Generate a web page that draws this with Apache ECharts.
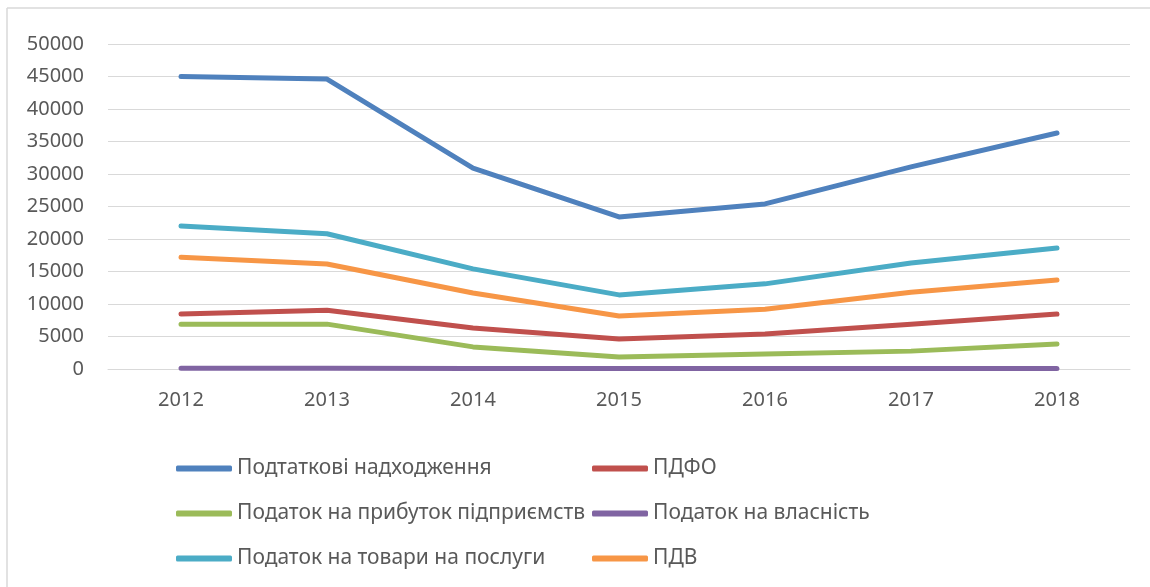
<!DOCTYPE html>
<html>
<head>
<meta charset="utf-8">
<script src="https://cdn.jsdelivr.net/npm/echarts@6/dist/echarts.min.js"></script>
<style>
  html, body { margin: 0; padding: 0; background: #fff; }
  #box { width: 1150px; height: 587px; }
</style>
</head>
<body>
<div id="box"></div>
<script>
const years = ['2012', '2013', '2014', '2015', '2016', '2017', '2018']
const taxRevenue = [45000, 44600, 30900, 23400, 25400, 31100, 36300]
const pdfo = [8450, 9050, 6300, 4600, 5400, 6900, 8450]
const profitTax = [6900, 6900, 3400, 1850, 2300, 2750, 3850]
const propertyTax = [100, 100, 80, 60, 60, 70, 80]
const goodsTax = [22000, 20800, 15400, 11400, 13100, 16300, 18600]
const pdv = [17200, 16150, 11700, 8150, 9200, 11800, 13700]

const names = [
  'Подтаткові надходження',
  'ПДФО',
  'Податок на прибуток підприємств',
  'Податок на власність',
  'Податок на товари на послуги',
  'ПДВ'
]
const colors = ['#4F81BD', '#C0504D', '#9BBB59', '#8064A2', '#4BACC6', '#F79646']
const values = [taxRevenue, pdfo, profitTax, propertyTax, goodsTax, pdv]

const font = 'Noto Sans'
const textColor = '#595959'

// легенда у дві колонки, по три рядки
function legendCol (left, items) {
  return {
    orient: 'vertical',
    left: left,
    top: 453,
    data: items,
    icon: 'roundRect',
    itemWidth: 56,
    itemHeight: 6,
    itemGap: 24,
    itemTextGap: 3,
    textStyle: { color: textColor, fontFamily: font, fontSize: 21, lineHeight: 21 }
  }
}

const box = document.getElementById('box')
const chart = echarts.init(box, null, { renderer: 'canvas' })
chart.setOption({
  animation: false,
  backgroundColor: '#fff',
  color: colors,
  graphic: [
    { type: 'line', shape: { x1: 7, y1: 8, x2: 1150, y2: 8 }, style: { stroke: '#d9d9d9', lineWidth: 1.5 } },
    { type: 'line', shape: { x1: 7, y1: 8, x2: 7, y2: 587 }, style: { stroke: '#d9d9d9', lineWidth: 1.5 } }
  ],
  grid: { left: 108, right: 20, top: 44, bottom: 218, containLabel: false },
  legend: [
    legendCol(171, [names[0], names[2], names[4]]),
    legendCol(587, [names[1], names[3], names[5]])
  ],
  xAxis: {
    type: 'category',
    data: years,
    boundaryGap: true,
    axisLine: { show: true, lineStyle: { color: '#d9d9d9', width: 1 } },
    axisTick: { show: false },
    axisLabel: { color: textColor, fontFamily: font, fontSize: 20, margin: 21 }
  },
  yAxis: {
    type: 'value',
    min: 0,
    max: 50000,
    interval: 5000,
    axisLine: { show: false },
    axisTick: { show: false },
    axisLabel: { color: textColor, fontFamily: font, fontSize: 20, margin: 24, formatter: v => String(v) },
    splitLine: { lineStyle: { color: '#d9d9d9', width: 1 } }
  },
  series: names.map((n, i) => ({
    name: n,
    type: 'line',
    data: values[i],
    symbol: 'none',
    lineStyle: { width: 5, color: colors[i], cap: 'round', join: 'round' },
    itemStyle: { color: colors[i] }
  }))
})
</script>
</body>
</html>
